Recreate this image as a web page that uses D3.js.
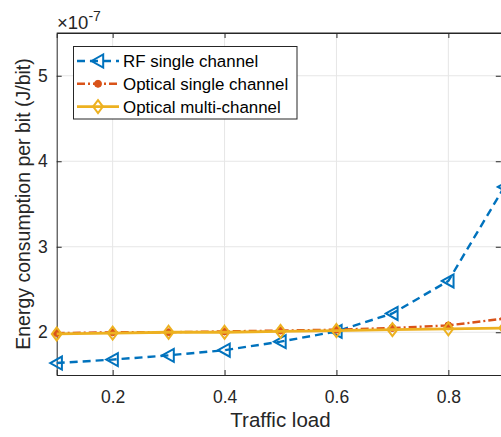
<!DOCTYPE html>
<html><head><meta charset="utf-8">
<script src="https://cdn.jsdelivr.net/npm/d3@7"></script>
<style>body{margin:0;background:#fff;overflow:hidden}svg{display:block}text{font-family:"Liberation Sans",Arial,sans-serif}</style>
</head><body>
<script>
const loads = [0.1,0.2,0.3,0.4,0.5,0.6,0.7,0.8,0.9];
const rfSingle = [1.64,1.68,1.73,1.79,1.89,2.01,2.22,2.60,3.70];
const opticalSingle = [1.99,2.0,2.0,2.01,2.02,2.03,2.05,2.08,2.16];
const opticalMulti = [1.98,1.99,2.0,2.0,2.01,2.02,2.03,2.04,2.05];
const xTicks = [0.2,0.4,0.6,0.8];
const yTicks = [2,3,4,5];
const seriesNames = ["RF single channel","Optical single channel","Optical multi-channel"];

const W=501,H=437;
const L=56.7,R=504.3,T=33,B=375;
const svg=d3.select("body").append("svg").attr("width",W).attr("height",H);
const x=d3.scaleLinear().domain([0.1,0.9]).range([L,R]);
const y=d3.scaleLinear().domain([1.5,5.5]).range([B,T]);

// grid
svg.append("g").selectAll("line").data(xTicks).join("line")
 .attr("x1",d=>x(d)).attr("x2",d=>x(d)).attr("y1",T).attr("y2",B).attr("stroke","#e6e6e6").attr("stroke-width",1);
svg.append("g").selectAll("line").data(yTicks).join("line")
 .attr("y1",d=>y(d)).attr("y2",d=>y(d)).attr("x1",L).attr("x2",R).attr("stroke","#e6e6e6").attr("stroke-width",1);

// axes
const ax=svg.append("g").attr("transform",`translate(0,${B})`).call(d3.axisBottom(x).tickValues(xTicks).tickSize(-5).tickPadding(10).tickFormat(d3.format(".1f")));
const axT=svg.append("g").attr("transform",`translate(0,${T})`).call(d3.axisTop(x).tickValues(xTicks).tickSize(-5).tickFormat(""));
const ay=svg.append("g").attr("transform",`translate(${L},0)`).call(d3.axisLeft(y).tickValues(yTicks).tickSize(-5).tickPadding(9).tickFormat(d3.format("d")));
const ayR=svg.append("g").attr("transform",`translate(${R-3.5},0)`).call(d3.axisRight(y).tickValues(yTicks).tickSize(-5).tickFormat(""));
[ax,axT,ay,ayR].forEach(g=>{
 g.selectAll(".domain").attr("stroke","#262626").attr("stroke-width",1);
 g.selectAll(".tick line").attr("stroke","#262626");
 g.selectAll("text").attr("font-size",17.5).attr("fill","#262626");
});
ax.selectAll("text").attr("dy",0).attr("y",27.5);
ayR.select(".domain").remove();
svg.append("line").attr("x1",L).attr("x2",W).attr("y1",T).attr("y2",T).attr("stroke","#262626");

// labels
svg.append("text").attr("x",x(0.5)).attr("y",427).attr("text-anchor","middle").attr("font-size",20.5).attr("fill","#262626").text("Traffic load");
svg.append("text").attr("transform",`translate(30,${(T+B)/2}) rotate(-90)`).attr("text-anchor","middle").attr("font-size",19.5).attr("fill","#262626").text("Energy consumption per bit (J/bit)");
const ex=svg.append("text").attr("x",57).attr("y",29).attr("font-size",18.5).attr("fill","#262626");
ex.append("tspan").text("×10");
ex.append("tspan").attr("dy",-8).attr("font-size",14).text("-7");

const colors=["#0072BD","#D95319","#EDB120"];
const data=[rfSingle,opticalSingle,opticalMulti];
const dashes=["8,5","8,3,2,3",null];
const widths=[2.4,2.4,2.8];
const line=d3.line().x((d,i)=>x(loads[i])).y(d=>y(d));

function marker(g,type,color,cx,cy){
 if(type===0){
  const s=6.5;
  g.append("path").attr("d",`M${cx-s},${cy}L${cx+s*0.8},${cy-s}L${cx+s*0.8},${cy+s}Z`).attr("fill","none").attr("stroke",color).attr("stroke-width",2);
 } else if(type===1){
  g.append("circle").attr("cx",cx).attr("cy",cy).attr("r",3.5).attr("fill",color).attr("stroke",color);
 } else {
  const s=6.5;
  g.append("path").attr("d",`M${cx},${cy-s}L${cx+s*0.75},${cy}L${cx},${cy+s}L${cx-s*0.75},${cy}Z`).attr("fill","none").attr("stroke",color).attr("stroke-width",2);
 }
}

const plot=svg.append("g");
[0,1,2].forEach(k=>{
 plot.append("path").datum(data[k]).attr("d",line).attr("fill","none").attr("stroke",colors[k]).attr("stroke-width",widths[k]).attr("stroke-dasharray",dashes[k]);
 const mg=plot.append("g");
 data[k].forEach((v,i)=>marker(mg,k,colors[k],x(loads[i]),y(v)));
});

// legend
const lg=svg.append("g");
lg.append("rect").attr("x",73.5).attr("y",46.5).attr("width",223.5).attr("height",72.5).attr("fill","#fff").attr("stroke","#262626").attr("stroke-width",1);
seriesNames.forEach((n,k)=>{
 const yy=61+k*22.8;
 lg.append("line").attr("x1",77).attr("x2",119).attr("y1",yy).attr("y2",yy).attr("stroke",colors[k]).attr("stroke-width",widths[k]).attr("stroke-dasharray",dashes[k]);
 marker(lg,k,colors[k],98,yy);
 lg.append("text").attr("x",123).attr("y",yy+6).attr("font-size",16.9).attr("fill","#000").text(n);
});
</script>
</body></html>
